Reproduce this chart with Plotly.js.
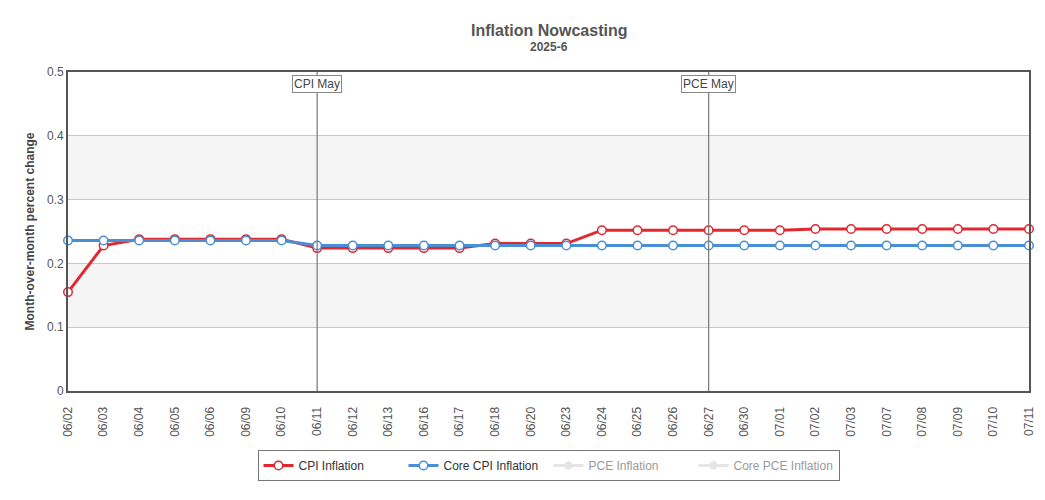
<!DOCTYPE html>
<html>
<head>
<meta charset="utf-8">
<script src="https://cdn.plot.ly/plotly-3.0.1.min.js"></script>
<style>html,body{margin:0;padding:0;background:#fff;}#chart{width:1045px;height:500px;}</style>
</head>
<body>
<div id="chart"></div>
<script>
const dates = ["06/02","06/03","06/04","06/05","06/06","06/09","06/10","06/11","06/12","06/13","06/16","06/17","06/18","06/20","06/23","06/24","06/25","06/26","06/27","06/30","07/01","07/02","07/03","07/07","07/08","07/09","07/10","07/11"];
const cpiInflation = [0.155,0.228,0.238,0.238,0.238,0.238,0.238,0.224,0.224,0.224,0.224,0.224,0.231,0.231,0.231,0.252,0.252,0.252,0.252,0.252,0.252,0.254,0.254,0.254,0.254,0.254,0.254,0.254];
const coreCpiInflation = [0.236,0.236,0.236,0.236,0.236,0.236,0.236,0.228,0.228,0.228,0.228,0.228,0.228,0.228,0.228,0.228,0.228,0.228,0.228,0.228,0.228,0.228,0.228,0.228,0.228,0.228,0.228,0.228];
// PCE series are hidden in the reference (legend only); no values are shown.
const pceInflation = dates.map(() => null);
const corePceInflation = dates.map(() => null);
const releaseDates = ["06/11","06/27"];
const releaseLabels = ["CPI May","PCE May"];

const font = "Arial, 'Liberation Sans', sans-serif";
const red = "#e0282e", blue = "#4a8fd3", grey = "#cccccc";

function series(name, y, color, extra) {
  return Object.assign({
    type: "scatter", mode: "lines+markers", name: name, x: dates, y: y,
    line: {color: color, width: 3},
    marker: {symbol: "circle", size: 8.5, color: "#ffffff", line: {color: color, width: 1.5}},
    cliponaxis: false, hoverinfo: "x+y+name"
  }, extra || {});
}

const traces = [
  series("CPI Inflation", cpiInflation, red),
  series("Core CPI Inflation", coreCpiInflation, blue),
  series("PCE Inflation", pceInflation, grey, {visible: "legendonly", marker: {symbol: "circle", size: 8.5, color: grey}}),
  series("Core PCE Inflation", corePceInflation, grey, {visible: "legendonly", marker: {symbol: "circle", size: 8.5, color: grey}})
];

const shapes = [
  {type: "rect", xref: "paper", yref: "y", x0: 0, x1: 1, y0: 0.1, y1: 0.2, fillcolor: "#f5f5f5", line: {width: 0}, layer: "below"},
  {type: "rect", xref: "paper", yref: "y", x0: 0, x1: 1, y0: 0.3, y1: 0.4, fillcolor: "#f5f5f5", line: {width: 0}, layer: "below"}
];
const annotations = [
  {xref: "paper", yref: "paper", x: 0.5, y: 1, yshift: 42, text: "<b>Inflation Nowcasting</b>", showarrow: false, font: {family: font, size: 16, color: "#555555"}, yanchor: "middle"},
  {xref: "paper", yref: "paper", x: 0.5, y: 1, yshift: 25, text: "<b>2025-6</b>", showarrow: false, font: {family: font, size: 12, color: "#555555"}, yanchor: "middle"}
];
releaseDates.forEach((d, i) => {
  const idx = dates.indexOf(d);
  shapes.push({type: "line", xref: "x", yref: "paper", x0: idx, x1: idx, y0: 0, y1: 1, line: {color: "#777777", width: 1.2}, layer: "above"});
  annotations.push({xref: "x", yref: "paper", x: idx, y: 1, yshift: -3, text: releaseLabels[i], showarrow: false,
    font: {family: font, size: 12, color: "#444444"}, bgcolor: "#ffffff", bordercolor: "#888888", borderwidth: 1, borderpad: 1});
});

const layout = {
  width: 1045, height: 500,
  margin: {l: 68, r: 16, t: 72, b: 109},
  paper_bgcolor: "#ffffff", plot_bgcolor: "#ffffff",
  font: {family: font, size: 12, color: "#555555"},
  showlegend: true,
  legend: {orientation: "h", x: 0.5, xanchor: "center", y: -0.185, yanchor: "top",
    bordercolor: "#777777", borderwidth: 1, bgcolor: "#ffffff",
    font: {family: font, size: 12, color: "#333333"}, entrywidth: 100, entrywidthmode: "pixels", itemclick: false},
  xaxis: {type: "category", range: [0, dates.length - 1], tickangle: -90, tickfont: {size: 12, color: "#555555"},
    showgrid: false, showline: true, mirror: true, linecolor: "#555555", linewidth: 2,
    ticks: "outside", ticklen: 9, tickcolor: "rgba(0,0,0,0)", fixedrange: true, automargin: false},
  yaxis: {range: [0, 0.5], tickvals: [0,0.1,0.2,0.3,0.4,0.5], ticktext: ["0","0.1","0.2","0.3","0.4","0.5"],
    showgrid: true, gridcolor: "#c8c8c8", gridwidth: 1, zeroline: false,
    showline: true, mirror: true, linecolor: "#555555", linewidth: 2, ticks: "", ticklen: 0,
    tickfont: {size: 12, color: "#555555"}, fixedrange: true, automargin: false,
    title: {text: "<b>Month-over-month percent change</b>", font: {size: 12, color: "#444444"}, standoff: 10}},
  shapes: shapes, annotations: annotations
};

Plotly.newPlot("chart", traces, layout, {displayModeBar: false});
</script>
</body>
</html>
